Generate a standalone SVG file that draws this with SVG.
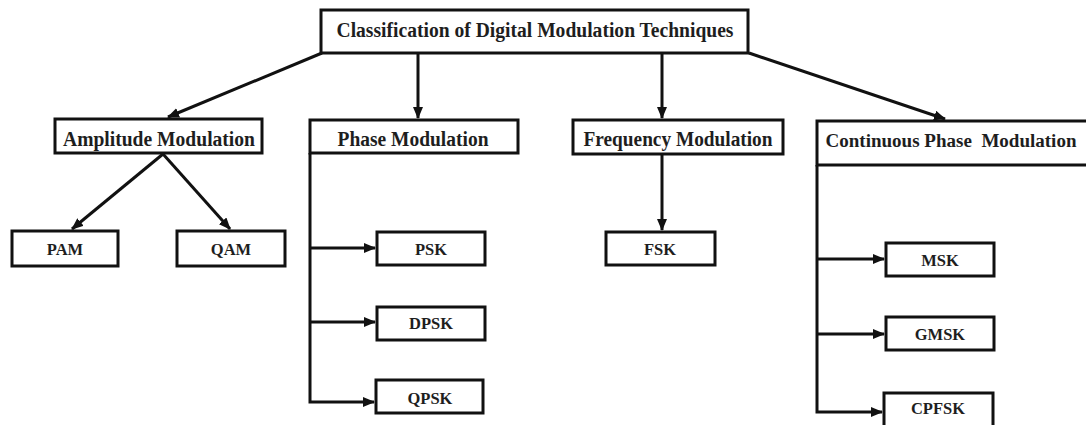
<svg xmlns="http://www.w3.org/2000/svg" width="1086" height="425" viewBox="0 0 1086 425">
  <style>
    .box { fill: #ffffff; stroke: #111111; stroke-width: 3; }
    .lbl { font-family: "Liberation Serif", "Times New Roman", serif; font-weight: bold; fill: #1e1e1e; text-anchor: middle; }
    .big { font-size: 20px; }
    .small { font-size: 16.5px; }
    .wire { fill: none; stroke: #111111; stroke-width: 3; }
  </style>
  <defs>
    <marker id="arrow" markerUnits="userSpaceOnUse" markerWidth="12" markerHeight="10" refX="11" refY="5" orient="auto">
      <path d="M0,0 L12,5 L0,10 z" fill="#111111"/>
    </marker>
  </defs>
  <rect width="1086" height="425" fill="#ffffff"/>

  <!-- connectors -->
  <g id="connectors" class="wire">
    <line x1="322" y1="53" x2="168" y2="117" marker-end="url(#arrow)"/>
    <line x1="418" y1="53" x2="418" y2="118" marker-end="url(#arrow)"/>
    <line x1="662" y1="53" x2="662" y2="118" marker-end="url(#arrow)"/>
    <line x1="749" y1="53" x2="945" y2="119" marker-end="url(#arrow)"/>
    <line x1="163" y1="154" x2="72" y2="229" marker-end="url(#arrow)"/>
    <line x1="163" y1="154" x2="230" y2="229" marker-end="url(#arrow)"/>
    <line x1="662" y1="154" x2="662" y2="230" marker-end="url(#arrow)"/>
    <!-- phase modulation bus -->
    <polyline points="310,153 310,402 374,402" marker-end="url(#arrow)"/>
    <line x1="310" y1="248" x2="375" y2="248" marker-end="url(#arrow)"/>
    <line x1="310" y1="322" x2="375" y2="322" marker-end="url(#arrow)"/>
    <!-- continuous phase modulation bus -->
    <polyline points="817,165 817,412 882,412" marker-end="url(#arrow)"/>
    <line x1="817" y1="259" x2="884" y2="259" marker-end="url(#arrow)"/>
    <line x1="817" y1="334" x2="884" y2="334" marker-end="url(#arrow)"/>
  </g>

  <g id="root">
    <rect class="box" x="321" y="10" width="427" height="43"/>
    <text class="lbl big" x="535" y="37" textLength="397" lengthAdjust="spacingAndGlyphs">Classification of Digital Modulation Techniques</text>
  </g>

  <g id="amplitude">
    <rect class="box" x="55" y="119" width="207" height="34"/>
    <text class="lbl big" x="159" y="146" textLength="192" lengthAdjust="spacingAndGlyphs">Amplitude Modulation</text>
  </g>
  <g id="phase">
    <rect class="box" x="310" y="120" width="208" height="33"/>
    <text class="lbl big" x="413" y="146" textLength="151" lengthAdjust="spacingAndGlyphs">Phase Modulation</text>
  </g>
  <g id="frequency">
    <rect class="box" x="573" y="120" width="210" height="34"/>
    <text class="lbl big" x="678" y="146" textLength="189" lengthAdjust="spacingAndGlyphs">Frequency Modulation</text>
  </g>
  <g id="continuous">
    <!-- box runs to the right margin, so its right side stays open -->
    <rect x="817" y="121" width="269" height="44" fill="#ffffff"/>
    <path class="wire" d="M1086,121 H817 V165 H1086"/>
    <text class="lbl" x="951" y="147" font-size="18.5" textLength="251" lengthAdjust="spacingAndGlyphs" xml:space="preserve">Continuous Phase  Modulation</text>
  </g>

  <g id="pam">
    <rect class="box" x="12" y="231" width="106" height="35"/>
    <text class="lbl small" x="65" y="255">PAM</text>
  </g>
  <g id="qam">
    <rect class="box" x="177" y="231" width="108" height="35"/>
    <text class="lbl small" x="231" y="255">QAM</text>
  </g>
  <g id="psk">
    <rect class="box" x="377" y="232" width="108" height="33"/>
    <text class="lbl small" x="431" y="255">PSK</text>
  </g>
  <g id="dpsk">
    <rect class="box" x="377" y="307" width="108" height="33"/>
    <text class="lbl small" x="431" y="329">DPSK</text>
  </g>
  <g id="qpsk">
    <rect class="box" x="376" y="380" width="107" height="33"/>
    <text class="lbl small" x="430" y="404">QPSK</text>
  </g>
  <g id="fsk">
    <rect class="box" x="606" y="232" width="109" height="33"/>
    <text class="lbl small" x="660" y="255">FSK</text>
  </g>
  <g id="msk">
    <rect class="box" x="886" y="243" width="108" height="33"/>
    <text class="lbl small" x="940" y="266">MSK</text>
  </g>
  <g id="gmsk">
    <rect class="box" x="886" y="317" width="108" height="33"/>
    <text class="lbl small" x="940" y="340">GMSK</text>
  </g>
  <g id="cpfsk">
    <rect class="box" x="884" y="393" width="109" height="40"/>
    <text class="lbl small" x="938" y="414">CPFSK</text>
  </g>
</svg>
